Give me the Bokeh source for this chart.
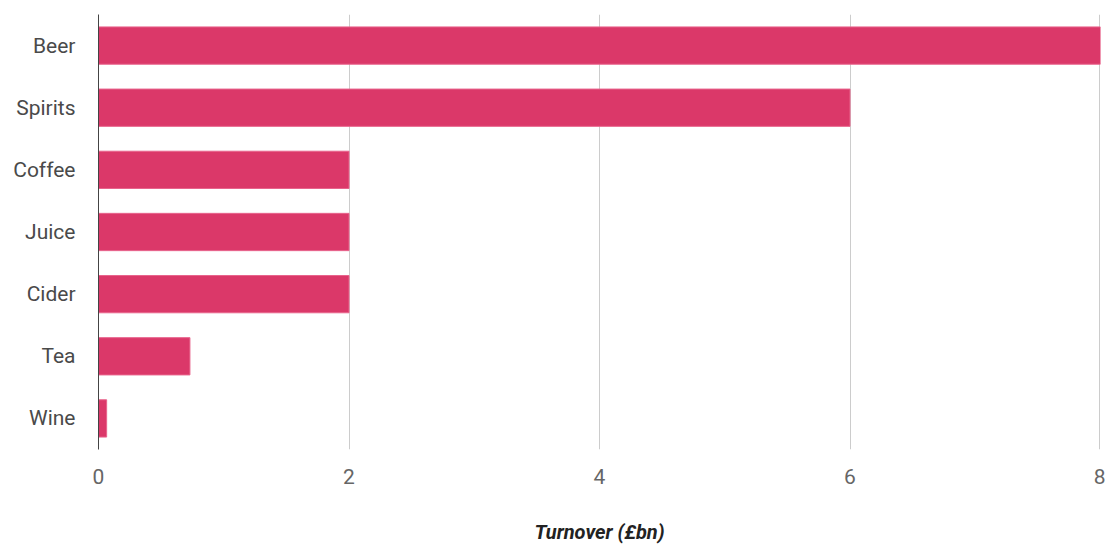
from bokeh.plotting import figure
from bokeh.models import FactorRange, Range1d, FixedTicker
from bokeh.embed import file_html
from bokeh.resources import INLINE

categories = ["Beer", "Spirits", "Coffee", "Juice", "Cider", "Tea", "Wine"]
turnover = [8.0, 6.0, 2.0, 2.0, 2.0, 0.73, 0.065]
x_ticks = [0, 2, 4, 6, 8]

FONT = "Roboto"

factors = list(reversed(categories))
p = figure(width=1105, height=546, output_backend="svg", toolbar_location=None,
           y_range=FactorRange(factors=factors, range_padding=0),
           x_range=Range1d(0, 8))
p.min_border_left = 98
p.min_border_right = 5
p.min_border_top = 14
p.min_border_bottom = 94
p.outline_line_color = None

p.hbar(y=categories, right=turnover, left=0, height=0.6,
       fill_color="#DB3869", line_color="#E8648C", line_width=1)

p.xaxis.ticker = FixedTicker(ticks=x_ticks)
p.xaxis.axis_line_color = None
p.xaxis.major_tick_line_color = None
p.xaxis.minor_tick_line_color = None
p.xaxis.major_label_standoff = 13
p.xaxis.major_label_text_font = FONT
p.xaxis.major_label_text_font_size = "21px"
p.xaxis.major_label_text_color = "#666666"
p.xaxis.axis_label = "Turnover (£bn)"
p.xaxis.axis_label_text_font = FONT
p.xaxis.axis_label_text_font_style = "bold italic"
p.xaxis.axis_label_text_font_size = "20px"
p.xaxis.axis_label_text_color = "#222222"
p.xaxis.axis_label_standoff = 33

p.yaxis.axis_line_color = "#444444"
p.yaxis.axis_line_width = 1
p.yaxis.major_tick_line_color = None
p.yaxis.minor_tick_line_color = None
p.yaxis.major_label_standoff = 17
p.yaxis.major_label_text_font = FONT
p.yaxis.major_label_text_font_size = "21px"
p.yaxis.major_label_text_color = "#4A4A4A"

p.ygrid.grid_line_color = None
p.xgrid.grid_line_color = "#CCCCCC"
p.xgrid.ticker = FixedTicker(ticks=[2, 4, 6, 7.995])

open("out.html", "w").write(file_html(p, INLINE))
